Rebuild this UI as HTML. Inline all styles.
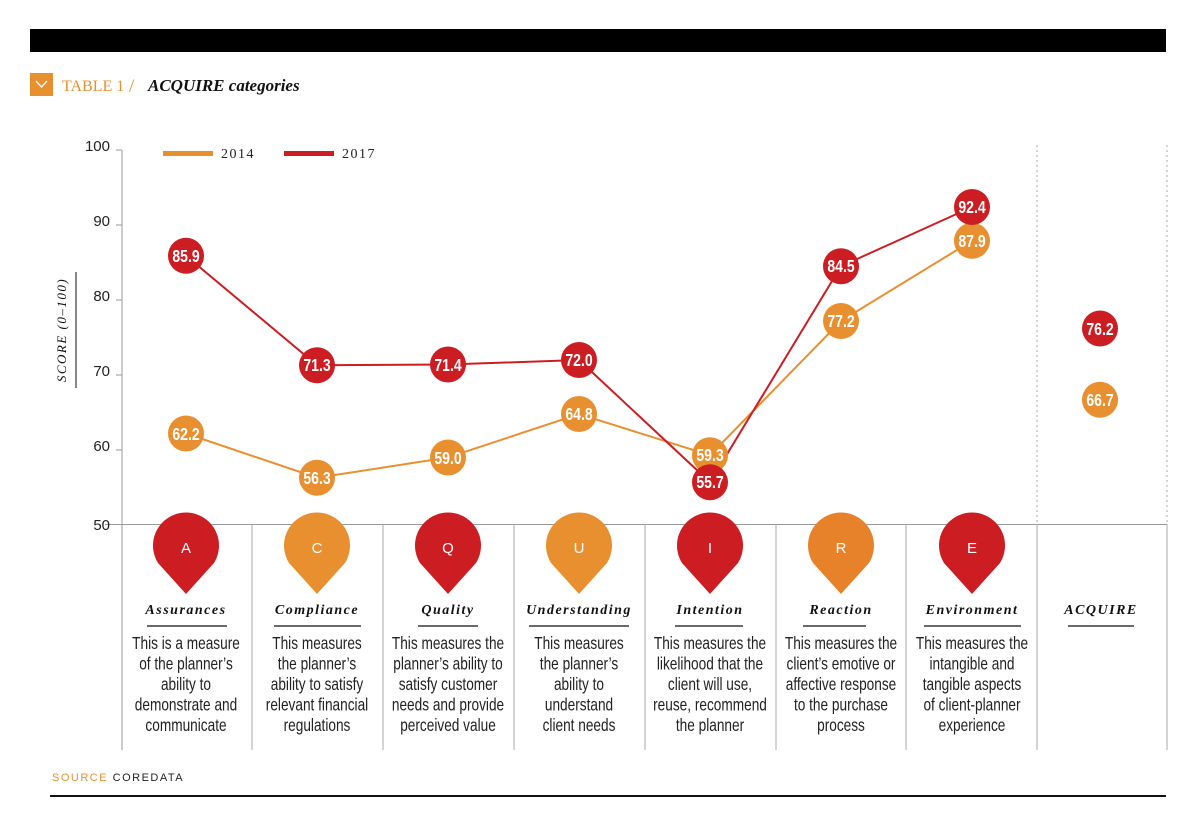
<!DOCTYPE html>
<html><head><meta charset="utf-8"><style>
body{margin:0;background:#fff;}
svg{display:block;}
.t{font-family:"Liberation Serif",serif;font-style:italic;font-weight:bold;font-size:14px;letter-spacing:1.5px;fill:#111;text-anchor:middle;}
.d{font-family:"Liberation Sans",sans-serif;font-size:17.5px;fill:#222;text-anchor:middle;}
.v{font-family:"Liberation Sans",sans-serif;font-size:18px;font-weight:bold;fill:#fff;text-anchor:middle;}
.ax{font-family:"Liberation Sans",sans-serif;font-size:15px;fill:#222;text-anchor:end;}
</style></head><body>
<svg width="1200" height="823" viewBox="0 0 1200 823" xmlns="http://www.w3.org/2000/svg">
<rect x="30" y="29" width="1136" height="23" fill="#000"/>
<rect x="30" y="73" width="23" height="23" fill="#E8902F"/>
<polyline points="36,81 41.5,87 47,81" fill="none" stroke="#fff" stroke-width="1.3"/>
<text x="62" y="91" font-family="Liberation Serif,serif" font-size="16" fill="#E8902F">TABLE 1</text>
<text x="129" y="92" font-family="Liberation Serif,serif" font-size="19" fill="#E8902F">/</text>
<text x="148" y="91" font-family="Liberation Serif,serif" font-size="17" font-style="italic" font-weight="bold" fill="#111">ACQUIRE categories</text>
<line x1="122" y1="150" x2="122" y2="750" stroke="#999" stroke-width="1"/>
<line x1="105" y1="524.5" x2="1167" y2="524.5" stroke="#999" stroke-width="1"/>
<g stroke="#999"><line x1="116" y1="150" x2="122" y2="150"/><line x1="116" y1="225" x2="122" y2="225"/><line x1="116" y1="300" x2="122" y2="300"/><line x1="116" y1="375" x2="122" y2="375"/><line x1="116" y1="450" x2="122" y2="450"/></g>
<text class="ax" x="110" y="151">100</text><text class="ax" x="110" y="226">90</text><text class="ax" x="110" y="301">80</text><text class="ax" x="110" y="376">70</text><text class="ax" x="110" y="451">60</text><text class="ax" x="110" y="530">50</text>
<text transform="translate(66,330) rotate(-90)" text-anchor="middle" font-family="Liberation Serif,serif" font-style="italic" font-size="13" letter-spacing="1.5" fill="#111">SCORE (0–100)</text>
<line x1="76" y1="272" x2="76" y2="388" stroke="#111" stroke-width="1"/>
<g stroke="#aaa" stroke-width="1">
<line x1="252" y1="524" x2="252" y2="750"/><line x1="383" y1="524" x2="383" y2="750"/><line x1="514" y1="524" x2="514" y2="750"/><line x1="645" y1="524" x2="645" y2="750"/><line x1="776" y1="524" x2="776" y2="750"/><line x1="906" y1="524" x2="906" y2="750"/><line x1="1037" y1="524" x2="1037" y2="750"/><line x1="1167" y1="524" x2="1167" y2="750"/>
<line x1="1037" y1="145" x2="1037" y2="524" stroke-dasharray="2,3"/><line x1="1167" y1="145" x2="1167" y2="524" stroke-dasharray="2,3"/>
</g>
<rect x="163" y="151" width="50" height="5" fill="#E8902F"/><text x="221" y="158" font-family="Liberation Serif,serif" font-size="14" letter-spacing="1.5" fill="#222">2014</text>
<rect x="284" y="151" width="50" height="5" fill="#CC1D22"/><text x="342" y="158" font-family="Liberation Serif,serif" font-size="14" letter-spacing="1.5" fill="#222">2017</text>
<polyline points="186,433.5 317,477.75 448,457.5 579,414 710,455.25 841,321 972,240.75" fill="none" stroke="#E8902F" stroke-width="2"/>
<polyline points="186,255.75 317,365.25 448,364.5 579,360 710,482.25 841,266.25 972,207" fill="none" stroke="#CC1D22" stroke-width="2"/>
<g fill="#E8902F">
<circle cx="186" cy="433.5" r="18"/><circle cx="317" cy="477.75" r="18"/><circle cx="448" cy="457.5" r="18"/><circle cx="579" cy="414" r="18"/><circle cx="710" cy="455.25" r="18"/><circle cx="841" cy="321" r="18"/><circle cx="972" cy="240.75" r="18"/><circle cx="1100" cy="399.75" r="18"/>
</g>
<g fill="#CC1D22">
<circle cx="186" cy="255.75" r="18"/><circle cx="317" cy="365.25" r="18"/><circle cx="448" cy="364.5" r="18"/><circle cx="579" cy="360" r="18"/><circle cx="710" cy="482.25" r="18"/><circle cx="841" cy="266.25" r="18"/><circle cx="972" cy="207" r="18"/><circle cx="1100" cy="328.5" r="18"/>
</g>
<g class="v">
<text transform="translate(186,440) scale(0.78,1)">62.2</text><text transform="translate(317,484) scale(0.78,1)">56.3</text><text transform="translate(448,464) scale(0.78,1)">59.0</text><text transform="translate(579,420) scale(0.78,1)">64.8</text><text transform="translate(710,461) scale(0.78,1)">59.3</text><text transform="translate(841,327) scale(0.78,1)">77.2</text><text transform="translate(972,247) scale(0.78,1)">87.9</text><text transform="translate(1100,406) scale(0.78,1)">66.7</text>
<text transform="translate(186,262) scale(0.78,1)">85.9</text><text transform="translate(317,371) scale(0.78,1)">71.3</text><text transform="translate(448,371) scale(0.78,1)">71.4</text><text transform="translate(579,366) scale(0.78,1)">72.0</text><text transform="translate(710,488) scale(0.78,1)">55.7</text><text transform="translate(841,272) scale(0.78,1)">84.5</text><text transform="translate(972,213) scale(0.78,1)">92.4</text><text transform="translate(1100,335) scale(0.78,1)">76.2</text>
</g>
<g>
<path d="M186,594 L158,563 A33,33 0 1 1 214,563 Z" fill="#CC1D22"/>
<path d="M317,594 L289,563 A33,33 0 1 1 345,563 Z" fill="#E8902F"/>
<path d="M448,594 L420,563 A33,33 0 1 1 476,563 Z" fill="#CC1D22"/>
<path d="M579,594 L551,563 A33,33 0 1 1 607,563 Z" fill="#E8902F"/>
<path d="M710,594 L682,563 A33,33 0 1 1 738,563 Z" fill="#CC1D22"/>
<path d="M841,594 L813,563 A33,33 0 1 1 869,563 Z" fill="#E8822A"/>
<path d="M972,594 L944,563 A33,33 0 1 1 1000,563 Z" fill="#CC1D22"/>
</g>
<g font-family="Liberation Sans,sans-serif" font-size="15" fill="#fff" text-anchor="middle">
<text x="186" y="553">A</text><text x="317" y="553">C</text><text x="448" y="553">Q</text><text x="579" y="553">U</text><text x="710" y="553">I</text><text x="841" y="553">R</text><text x="972" y="553">E</text>
</g>
<g class="t">
<text x="186" y="614">Assurances</text><text x="317" y="614">Compliance</text><text x="448" y="614">Quality</text><text x="579" y="614">Understanding</text><text x="710" y="614">Intention</text><text x="841" y="614">Reaction</text><text x="972" y="614">Environment</text><text x="1101" y="614">ACQUIRE</text>
</g>
<g stroke="#111" stroke-width="1.3">
<line x1="147" y1="626" x2="227" y2="626"/><line x1="274" y1="626" x2="361" y2="626"/><line x1="418" y1="626" x2="478" y2="626"/><line x1="529" y1="626" x2="629" y2="626"/><line x1="675" y1="626" x2="743" y2="626"/><line x1="803" y1="626" x2="866" y2="626"/><line x1="924" y1="626" x2="1021" y2="626"/><line x1="1068" y1="626" x2="1134" y2="626"/>
</g>
<g class="d">
<g transform="translate(186,0) scale(0.78,1)"><text x="0" y="649">This is a measure</text><text x="0" y="669.5">of the planner’s</text><text x="0" y="690">ability to</text><text x="0" y="710.5">demonstrate and</text><text x="0" y="731">communicate</text></g>
<g transform="translate(317,0) scale(0.78,1)"><text x="0" y="649">This measures</text><text x="0" y="669.5">the planner’s</text><text x="0" y="690">ability to satisfy</text><text x="0" y="710.5">relevant financial</text><text x="0" y="731">regulations</text></g>
<g transform="translate(448,0) scale(0.78,1)"><text x="0" y="649">This measures the</text><text x="0" y="669.5">planner’s ability to</text><text x="0" y="690">satisfy customer</text><text x="0" y="710.5">needs and provide</text><text x="0" y="731">perceived value</text></g>
<g transform="translate(579,0) scale(0.78,1)"><text x="0" y="649">This measures</text><text x="0" y="669.5">the planner’s</text><text x="0" y="690">ability to</text><text x="0" y="710.5">understand</text><text x="0" y="731">client needs</text></g>
<g transform="translate(710,0) scale(0.78,1)"><text x="0" y="649">This measures the</text><text x="0" y="669.5">likelihood that the</text><text x="0" y="690">client will use,</text><text x="0" y="710.5">reuse, recommend</text><text x="0" y="731">the planner</text></g>
<g transform="translate(841,0) scale(0.78,1)"><text x="0" y="649">This measures the</text><text x="0" y="669.5">client’s emotive or</text><text x="0" y="690">affective response</text><text x="0" y="710.5">to the purchase</text><text x="0" y="731">process</text></g>
<g transform="translate(972,0) scale(0.78,1)"><text x="0" y="649">This measures the</text><text x="0" y="669.5">intangible and</text><text x="0" y="690">tangible aspects</text><text x="0" y="710.5">of client-planner</text><text x="0" y="731">experience</text></g>
</g>
<text x="52" y="781" font-family="Liberation Sans,sans-serif" font-size="11" letter-spacing="1.5" fill="#E8902F">SOURCE <tspan fill="#222">COREDATA</tspan></text>
<line x1="50" y1="796" x2="1166" y2="796" stroke="#111" stroke-width="2"/>
</svg>
</body></html>
